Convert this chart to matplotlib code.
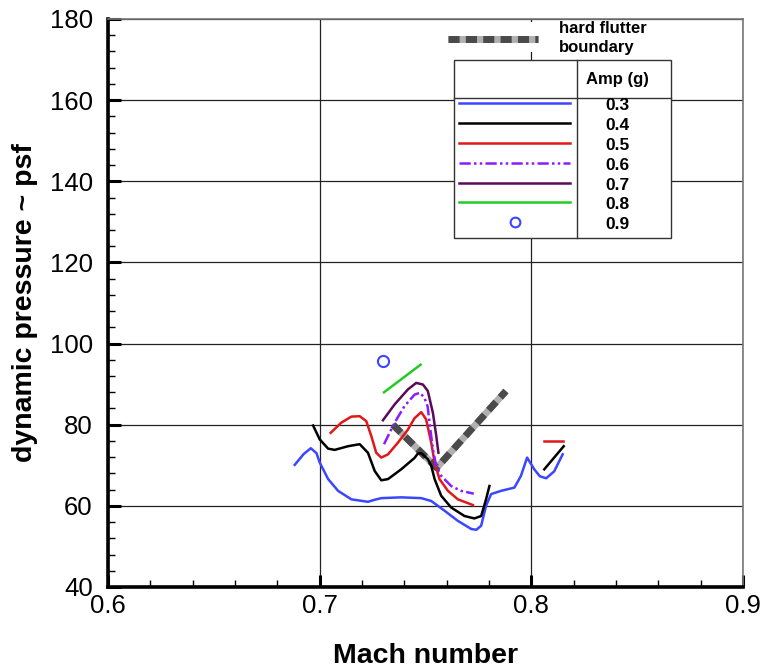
import matplotlib
matplotlib.use("Agg")
import matplotlib.pyplot as plt
from matplotlib.lines import Line2D
from matplotlib.patches import Rectangle
from matplotlib.ticker import MultipleLocator, FormatStrFormatter

plt.rcParams['font.family'] = ['Liberation Sans', 'DejaVu Sans']

# ---------------- data ----------------
amp_labels = ["0.3", "0.4", "0.5", "0.6", "0.7", "0.8", "0.9"]

a03_M = [0.6882, 0.6925, 0.6958, 0.6985, 0.7000, 0.7040, 0.7087, 0.7150, 0.7228, 0.7260,
         0.7291, 0.7385, 0.7480, 0.7527, 0.7590, 0.7653, 0.7716, 0.7740, 0.7763, 0.7786,
         0.7810, 0.7857, 0.7920, 0.7951, 0.7980, 0.8014, 0.8040, 0.8070, 0.8108, 0.8148]
a03_q = [70.1, 72.8, 74.2, 73.0, 70.7, 66.6, 63.7, 61.6, 61.0, 61.5,
         61.9, 62.1, 61.9, 61.2, 58.8, 56.3, 54.3, 54.1, 55.1, 60.0,
         62.9, 63.7, 64.5, 67.4, 71.9, 69.0, 67.3, 66.8, 68.5, 72.7]

a04_M = [0.6969, 0.7000, 0.7040, 0.7071, 0.7134, 0.7189, 0.7228, 0.7260, 0.7291, 0.7323,
         0.7385, 0.7448, 0.7464, 0.7480, 0.7511, 0.7527, 0.7543, 0.7574, 0.7621, 0.7684,
         0.7731, 0.7763, 0.7786, 0.7802]
a04_q = [79.8, 76.4, 74.1, 73.8, 74.7, 75.2, 73.1, 68.6, 66.3, 66.6,
         69.0, 71.8, 72.9, 73.0, 71.5, 69.9, 66.6, 62.5, 59.6, 57.5,
         56.9, 57.5, 61.6, 64.9]
a04b_M = [0.8061, 0.8153]
a04b_q = [69.0, 74.7]

a05_M = [0.7052, 0.7102, 0.7150, 0.7189, 0.7220, 0.7244, 0.7267, 0.7291, 0.7323, 0.7370,
         0.7417, 0.7448, 0.7480, 0.7503, 0.7527, 0.7543, 0.7566, 0.7606, 0.7653, 0.7724]
a05_q = [78.0, 80.5, 82.0, 82.1, 80.9, 77.2, 73.1, 71.9, 72.7, 75.6,
         78.8, 81.6, 83.1, 81.3, 75.6, 70.7, 66.6, 63.7, 61.6, 60.2]
a05b_M = [0.8061, 0.8148]
a05b_q = [76.0, 76.0]

a06_M = [0.7304, 0.7354, 0.7401, 0.7448, 0.7474, 0.7495, 0.7510, 0.7519, 0.7535, 0.7551,
         0.7574, 0.7621, 0.7668, 0.7728]
a06_q = [75.2, 80.5, 84.6, 87.4, 87.9, 86.6, 84.5, 80.5, 73.9, 69.8,
         67.4, 64.9, 63.7, 63.0]

a07_M = [0.7299, 0.7354, 0.7417, 0.7456, 0.7488, 0.7511, 0.7535, 0.7551, 0.7561]
a07_q = [81.1, 85.0, 88.7, 90.3, 89.9, 88.3, 82.9, 77.2, 73.1]

a08_M = [0.7304, 0.7477]
a08_q = [88.0, 94.8]

a09_M = [0.7299]
a09_q = [95.8]

bound_M = [0.7346, 0.7553, 0.7880]
bound_q = [80.0, 69.4, 88.3]

# ---------------- styles ----------------
c_blue = '#3a46ff'
c_black = '#000000'
c_red = '#e01818'
c_violet = '#8a1cff'
c_dpurple = '#5a0a5a'
c_green = '#22cc22'
lw = 1.8
dashdotdot = (0, (4.5, 1.3, 1, 1.3, 1, 1.3))

fig = plt.figure(figsize=(7.62, 6.72), dpi=100)
ax = fig.add_axes([108/762, 1-587/672, (743-108)/762, (587-19)/672])

ax.set_xlim(0.6, 0.9)
ax.set_ylim(40, 180)
ax.xaxis.set_major_locator(MultipleLocator(0.1))
ax.xaxis.set_minor_locator(MultipleLocator(0.02))
ax.yaxis.set_major_locator(MultipleLocator(20))
ax.yaxis.set_minor_locator(MultipleLocator(4))
ax.xaxis.set_major_formatter(FormatStrFormatter('%g'))
ax.yaxis.set_major_formatter(FormatStrFormatter('%g'))
ax.grid(True, which='major', color='#222222', lw=0.9)
ax.set_axisbelow(True)

ax.tick_params(which='both', direction='in', top=False, right=False)
ax.tick_params(which='major', length=9, width=2.2, labelsize=18.5, colors='black')
ax.tick_params(axis='y', which='major', pad=11)
ax.tick_params(axis='x', which='major', pad=5)
ax.tick_params(which='minor', length=5, width=1.0)
for s in ['left', 'bottom']:
    ax.spines[s].set_linewidth(2.6)
    ax.spines[s].set_color('black')
for s in ['top', 'right']:
    ax.spines[s].set_linewidth(1.2)
    ax.spines[s].set_color('#777777')

ax.set_xlabel('Mach number', fontsize=20.5, fontweight='bold', labelpad=18)
ax.set_ylabel('dynamic pressure ~ psf', fontsize=20.5, fontweight='bold', labelpad=8)

# boundary (drawn first)
ax.plot(bound_M, bound_q, color='#b0b0b0', lw=5, solid_capstyle='butt', zorder=3)
ax.plot(bound_M, bound_q, color='#4a4a4a', lw=5, ls=(0, (1.6, 0.9)), zorder=3)

ax.plot(a03_M, a03_q, color=c_blue, lw=lw, zorder=4)
ax.plot(a04_M, a04_q, color=c_black, lw=lw, zorder=4)
ax.plot(a04b_M, a04b_q, color=c_black, lw=lw, zorder=4)
ax.plot(a05_M, a05_q, color=c_red, lw=lw, zorder=4)
ax.plot(a05b_M, a05b_q, color=c_red, lw=lw, zorder=4)
ax.plot(a06_M, a06_q, color=c_violet, lw=lw, ls=dashdotdot, zorder=4)
ax.plot(a07_M, a07_q, color=c_dpurple, lw=lw, zorder=4)
ax.plot(a08_M, a08_q, color=c_green, lw=lw, zorder=4)
ax.plot(a09_M, a09_q, ls='none', marker='o', ms=8, mfc='none', mec=c_blue, mew=1.5, zorder=4)

# ---------------- custom legend ----------------
T = ax.transAxes
# hard flutter boundary entry
ax.add_patch(Rectangle((0.523, 0.942), 0.33, 0.052, transform=T, facecolor='white',
                       edgecolor='none', zorder=5, clip_on=False))
ax.add_line(Line2D([0.5359, 0.6776], [0.9643, 0.9643], transform=T, color='#b0b0b0',
                   lw=5, solid_capstyle='butt', zorder=6))
ax.add_line(Line2D([0.5359, 0.6776], [0.9643, 0.9643], transform=T, color='#4a4a4a',
                   lw=5, ls=(0, (1.6, 0.9)), zorder=6))
ax.text(0.7107, 0.9836, 'hard flutter', transform=T, fontsize=12, fontweight='bold',
        va='center', ha='left', zorder=7)
ax.text(0.7107, 0.9495, 'boundary', transform=T, fontsize=12, fontweight='bold',
        va='center', ha='left', zorder=7)

# table box
bx0, bx1, by0, by1 = 0.5449, 0.8861, 0.6139, 0.9278
ax.add_patch(Rectangle((bx0, by0), bx1-bx0, by1-by0, transform=T, facecolor='white',
                       edgecolor='#333333', lw=1.0, zorder=5))
ax.add_line(Line2D([0.7381, 0.7381], [by0, by1], transform=T, color='#333333', lw=1.0, zorder=6))
ax.add_line(Line2D([bx0, bx1], [0.8614, 0.8614], transform=T, color='#333333', lw=1.0, zorder=6))
ax.text(0.8027, 0.8938, 'Amp (g)', transform=T, fontsize=12, fontweight='bold',
        ha='center', va='center', zorder=7)

row_y = [0.8526, 0.8174, 0.7822, 0.7470, 0.7118, 0.6783, 0.6431]
styles = [dict(color=c_blue), dict(color=c_black), dict(color=c_red),
          dict(color=c_violet, ls=dashdotdot), dict(color=c_dpurple), dict(color=c_green)]
for y, st in zip(row_y[:6], styles):
    ax.add_line(Line2D([0.5532, 0.7276], [y, y], transform=T, lw=lw, zorder=7, **st))
ax.add_line(Line2D([0.641], [row_y[6]], transform=T, ls='none', marker='o', ms=7,
                   mfc='none', mec=c_blue, mew=1.5, zorder=7))
for y, lab in zip(row_y, amp_labels):
    ax.text(0.8027, y - 0.005, lab, transform=T, fontsize=12.5, fontweight='bold',
            ha='center', va='center', zorder=7)

fig.savefig('out.png', dpi=100)
